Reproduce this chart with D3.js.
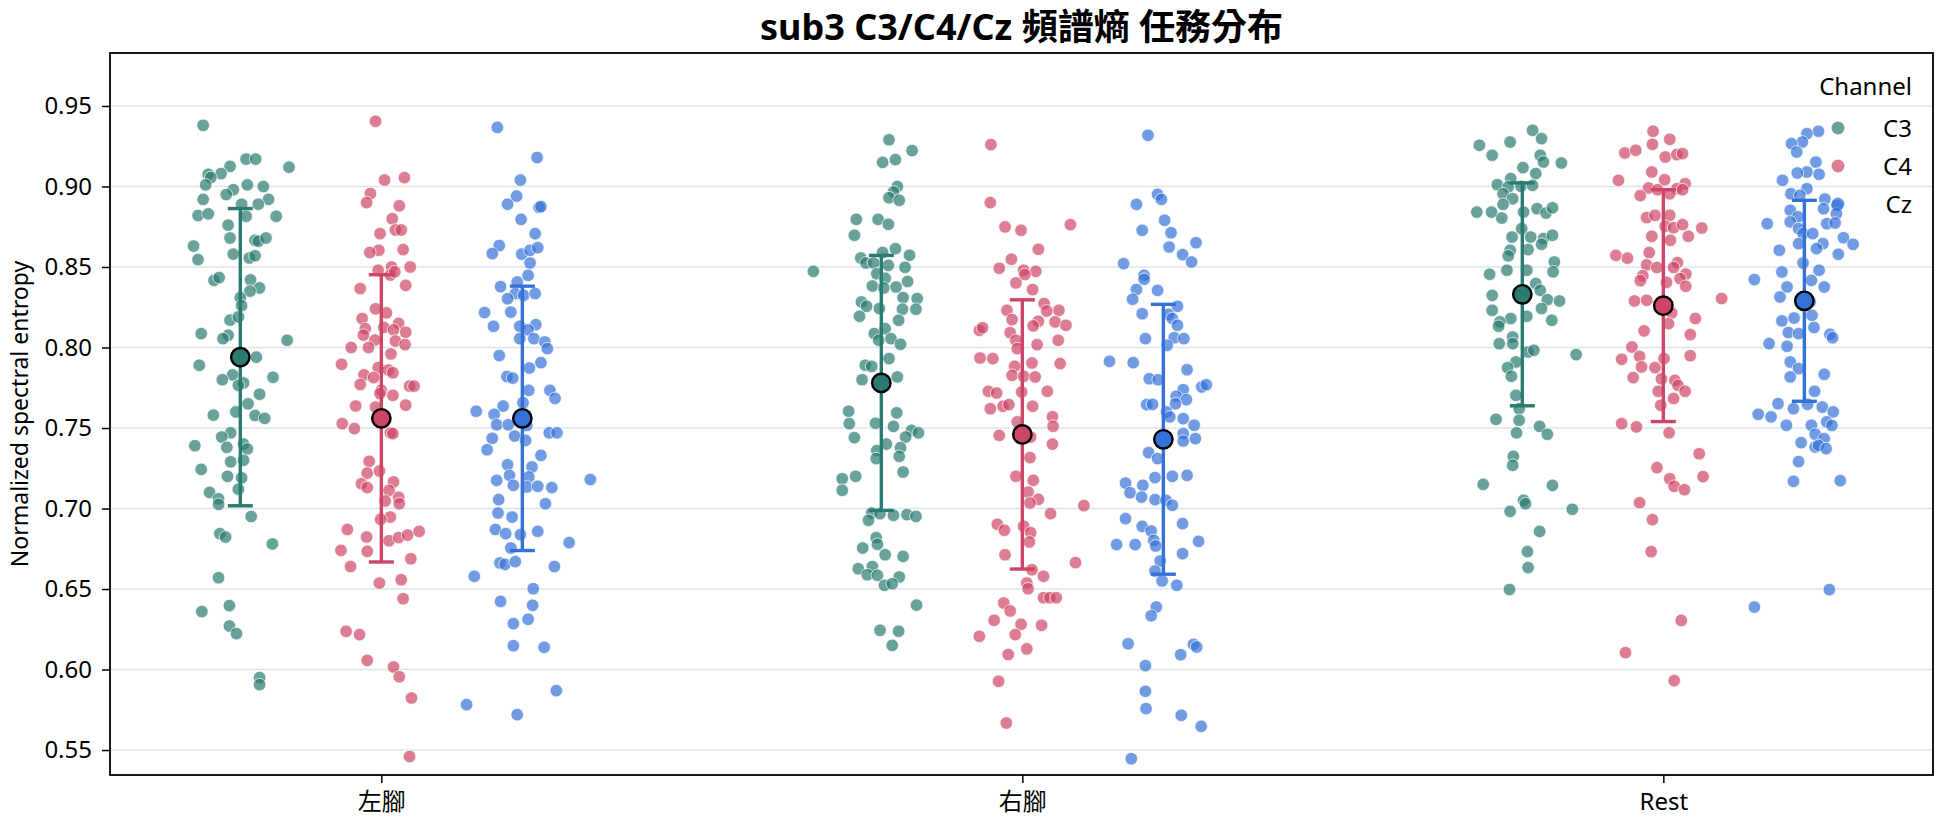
<!DOCTYPE html>
<html>
<head>
<meta charset="utf-8">
<script src="https://cdn.jsdelivr.net/npm/d3@7"></script>
<style>
  body { margin: 0; background: #fff; }
  text { font-family: "Noto Sans", "Noto Sans CJK TC", sans-serif; }
</style>
</head>
<body>
<div class="chart"></div>
<script>
// カテゴリとチャンネル
const categories = ["左腳", "右腳", "Rest"];
const channels = ["C3", "C4", "Cz"];
const yTicks = [0.55, 0.60, 0.65, 0.70, 0.75, 0.80, 0.85, 0.90, 0.95];

// 平均と標準偏差 (カテゴリ × チャンネル)
const meansC3 = [0.794, 0.778, 0.833];
const meansC4 = [0.756, 0.746, 0.826];
const meansCz = [0.756, 0.743, 0.829];
const sdC3 = [0.0923, 0.0792, 0.0692];
const sdC4 = [0.0892, 0.0836, 0.0720];
const sdCz = [0.0821, 0.0838, 0.0624];

// 各点 [jitter(1/1000 カテゴリ幅), 値]
const leftC3 = [[-58,.938],[9,.917],[24,.917],[76,.912],[-16,.9125],[-30,.908],[-50,.9076],[-46,.9055],[-54,.901],[11,.901],[36,.900],[-11,.898],[-22,.895],[-58,.892],[44,.892],[2,.889],[28,.889],[-66,.882],[-50,.883],[9,.8815],[56,.8815],[-19,.876],[-16,.868],[23,.8666],[28,.866],[40,.868],[-73,.863],[-66,.8546],[-11,.858],[14,.8556],[23,.857],[-41,.8417],[-33,.8434],[16,.842],[30,.837],[15,.835],[0,.831],[2,.826],[-16,.817],[-3,.819],[-19,.8076],[-27,.8055],[-61,.8086],[73,.8045],[25,.794],[-64,.789],[-12,.783],[-28,.780],[51,.7815],[5,.778],[-3,.7765],[30,.771],[12,.765],[-7,.760],[-42,.758],[23,.7578],[38,.756],[-15,.747],[-29,.7444],[-71,.739],[-21,.738],[5,.740],[11,.737],[-15,.729],[5,.730],[-61,.7243],[-20,.720],[2,.719],[-3,.712],[-48,.710],[-34,.706],[-34,.7026],[17,.695],[-32,.6844],[-23,.6823],[50,.678],[-34,.657],[-17,.6397],[-60,.636],[-17,.627],[-6,.6223],[30,.595],[30,.5906]];
const leftC4 = [[-9,.9405],[36,.9055],[5,.904],[-17,.8956],[-23,.890],[28,.888],[17,.880],[-2,.8707],[22,.873],[31,.873],[-4,.8604],[-18,.859],[34,.8608],[16,.850],[45,.850],[-5,.848],[14,.845],[21,.847],[-33,.8366],[38,.8386],[-9,.824],[8,.8215],[-30,.818],[27,.815],[-25,.8117],[4,.8125],[38,.8095],[-28,.8077],[19,.811],[-10,.8046],[22,.804],[37,.8018],[-47,.800],[-20,.800],[15,.796],[-62,.7896],[-5,.7875],[11,.786],[18,.7843],[-27,.783],[-12,.7813],[-33,.777],[44,.776],[51,.776],[0,.7734],[-2,.7714],[18,.7703],[-40,.7637],[-9,.763],[38,.7642],[-61,.7527],[-42,.7496],[14,.747],[18,.7465],[-19,.7293],[-22,.722],[-3,.7233],[-31,.7154],[-22,.713],[19,.7165],[12,.7113],[27,.707],[6,.7047],[28,.703],[14,.6947],[-1,.6933],[-53,.687],[-23,.6823],[12,.680],[27,.682],[41,.6835],[59,.6858],[-63,.674],[-22,.6734],[46,.6688],[-48,.664],[-3,.6537],[31,.6558],[34,.644],[-55,.6237],[-34,.6217],[-22,.6057],[19,.6016],[28,.5955],[47,.5823],[44,.546]];
const leftCz = [[-39,.9367],[23,.918],[-3,.904],[-9,.894],[-23,.889],[26,.887],[29,.8875],[-2,.8796],[20,.8707],[-36,.8633],[-47,.8583],[-1,.858],[12,.8604],[24,.862],[12,.8525],[9,.8448],[-8,.8407],[-34,.8378],[-11,.8335],[2,.8324],[20,.8335],[-23,.8303],[-59,.8217],[-18,.822],[-45,.8132],[-4,.8132],[21,.8142],[9,.811],[-4,.8055],[18,.8055],[35,.8034],[39,.7993],[-36,.795],[29,.7906],[11,.7873],[-24,.782],[-15,.781],[10,.7734],[43,.7734],[51,.7684],[-30,.7636],[1,.7657],[-72,.7604],[-44,.7585],[-40,.752],[-22,.752],[7,.7516],[-12,.745],[42,.747],[54,.747],[-47,.7436],[5,.7423],[-55,.7365],[29,.733],[-23,.7272],[15,.7258],[-20,.7206],[10,.7196],[106,.718],[-40,.7175],[-14,.7144],[7,.7134],[24,.7138],[46,.713],[-37,.7055],[36,.703],[-38,.6972],[-16,.6947],[-42,.687],[-26,.6844],[-3,.6838],[24,.6858],[-18,.6755],[73,.6788],[-35,.6662],[-27,.6653],[-11,.667],[50,.664],[-75,.6579],[17,.6502],[-34,.6423],[16,.6399],[9,.6312],[-14,.6285],[-14,.6148],[34,.6138],[53,.5869],[-87,.5782],[-8,.572]];
const rightC3 = [[12,.929],[48,.9223],[2,.915],[22,.9167],[25,.900],[19,.8966],[12,.893],[28,.8914],[-39,.8796],[-5,.8796],[11,.8765],[-42,.8697],[22,.8614],[2,.859],[-32,.8556],[44,.8573],[-24,.8525],[-12,.8525],[11,.851],[-106,.8473],[37,.8498],[-7,.8458],[6,.843],[-14,.8382],[4,.837],[23,.8376],[41,.841],[34,.831],[56,.8304],[-31,.8283],[-23,.8256],[-3,.8242],[33,.8238],[54,.8238],[-34,.8194],[27,.8169],[6,.8117],[-11,.8086],[-4,.8045],[15,.8055],[30,.802],[-25,.789],[-15,.7883],[12,.7931],[-30,.780],[25,.7817],[-51,.7604],[24,.7594],[-50,.7527],[-9,.753],[19,.751],[47,.7485],[58,.747],[-42,.744],[38,.7444],[8,.740],[-7,.736],[30,.7378],[-8,.731],[28,.7324],[34,.7227],[-61,.7185],[-40,.720],[-61,.7113],[-15,.6972],[-2,.6968],[19,.6958],[40,.6962],[54,.6951],[-20,.6927],[-8,.6819],[-6,.6778],[-29,.6755],[6,.6713],[34,.6703],[-36,.6626],[-14,.664],[-22,.6589],[-6,.6585],[28,.6575],[5,.6523],[17,.6533],[55,.640],[-2,.6244],[27,.6238],[17,.615]];
const rightC4 = [[-49,.926],[-50,.890],[75,.8763],[-27,.8749],[-2,.8728],[25,.861],[-17,.8548],[-36,.8492],[2,.848],[21,.8473],[4,.8453],[-10,.8401],[16,.836],[34,.8273],[-24,.8231],[57,.8231],[38,.8227],[-16,.8173],[25,.8163],[51,.8159],[68,.8138],[-67,.8107],[-62,.8123],[17,.8134],[-19,.8092],[-10,.8045],[56,.8045],[23,.8018],[-8,.7993],[-66,.7935],[-46,.7931],[15,.7904],[59,.790],[-12,.7883],[-16,.7827],[2,.7821],[20,.7817],[-53,.7728],[-40,.7717],[-1,.7724],[39,.7728],[-30,.7635],[-21,.7645],[-50,.762],[16,.7635],[47,.757],[-8,.7538],[48,.7511],[-36,.7454],[13,.7444],[47,.740],[12,.7316],[-10,.720],[17,.7175],[9,.7102],[25,.7057],[12,.7034],[44,.6968],[96,.7018],[-39,.6902],[-28,.6865],[2,.689],[13,.685],[11,.6792],[-27,.6713],[83,.6664],[15,.662],[33,.6579],[7,.6537],[9,.6502],[33,.6446],[43,.6446],[53,.6446],[-29,.6413],[-19,.6364],[-44,.6306],[-2,.6281],[30,.6275],[-11,.6217],[-67,.6206],[7,.6128],[-22,.6093],[-37,.5927],[-25,.5668]];
const rightCz = [[-24,.9318],[-9,.8951],[-3,.892],[-42,.8889],[2,.879],[-33,.8728],[12,.8713],[51,.8651],[9,.8624],[30,.8577],[44,.8531],[-62,.8521],[-30,.8448],[-30,.8424],[-9,.8355],[-42,.836],[-48,.830],[22,.8256],[-33,.821],[8,.8206],[14,.818],[22,.8138],[-28,.8055],[17,.8061],[32,.8055],[6,.8014],[-84,.7914],[-47,.7906],[37,.7862],[-22,.7806],[-8,.780],[60,.7755],[67,.7769],[31,.7738],[20,.7697],[36,.7676],[19,.7651],[-26,.7645],[-17,.7647],[5,.760],[10,.7569],[31,.7558],[48,.7517],[31,.7465],[31,.7419],[50,.7434],[-23,.7347],[-9,.731],[-13,.7192],[14,.720],[37,.7206],[-59,.7158],[-32,.7144],[-52,.7098],[-34,.7071],[-13,.7055],[4,.7051],[14,.702],[-59,.6937],[-33,.6889],[30,.6906],[-19,.686],[-15,.6802],[-73,.6776],[-44,.6776],[55,.6796],[-12,.6767],[30,.672],[-5,.6674],[-13,.6612],[-2,.655],[21,.6523],[-11,.6388],[-19,.6334],[-55,.616],[47,.6156],[52,.614],[27,.6092],[-28,.6024],[-28,.5865],[-27,.5757],[28,.5716],[59,.5647],[-50,.5446]];
const restC3 = [[16,.9349],[-67,.9256],[-19,.9276],[30,.9297],[-47,.9194],[28,.9194],[61,.9146],[33,.9152],[1,.9117],[21,.908],[-18,.9049],[-39,.9011],[-22,.8997],[-2,.9001],[16,.9007],[-30,.8955],[-15,.8924],[-30,.8889],[-71,.8841],[-48,.8841],[2,.8841],[-32,.8804],[23,.8862],[37,.8835],[47,.8868],[-1,.8738],[-16,.8686],[13,.8686],[33,.8676],[47,.8697],[30,.8641],[-19,.8604],[9,.8608],[-22,.8569],[50,.8531],[-51,.8455],[-24,.848],[7,.848],[48,.847],[21,.8397],[28,.8355],[-47,.8324],[39,.8297],[58,.8289],[-47,.8231],[30,.8242],[-18,.818],[7,.8194],[46,.8169],[-35,.8159],[-37,.8132],[-36,.8024],[-15,.8065],[-15,.8024],[9,.7972],[18,.7983],[84,.7956],[-10,.791],[-23,.7875],[-17,.7821],[-10,.7703],[-5,.762],[-41,.7554],[-5,.7548],[27,.751],[-9,.747],[39,.7461],[-14,.7324],[-15,.7268],[-61,.715],[47,.7144],[2,.7051],[5,.703],[-19,.6982],[78,.6995],[27,.6858],[8,.6732],[9,.6633],[-20,.6497]];
const restC4 = [[-16,.9343],[10,.9293],[-17,.9262],[-60,.9208],[-43,.9225],[3,.9183],[21,.9198],[30,.9204],[-18,.909],[-70,.9038],[2,.9042],[34,.9017],[-23,.8991],[-9,.898],[21,.8986],[30,.898],[-36,.8943],[10,.8955],[10,.8821],[-26,.8807],[-13,.8821],[3,.8753],[16,.8744],[30,.8763],[60,.8742],[39,.8691],[-18,.8691],[11,.8666],[-74,.8572],[-56,.8555],[-22,.859],[22,.8527],[-26,.8513],[-10,.8497],[16,.8497],[35,.8456],[-32,.8446],[-36,.8415],[5,.8405],[26,.8428],[35,.838],[91,.8304],[-45,.8289],[-26,.8293],[13,.8215],[50,.818],[-30,.8103],[8,.8148],[42,.808],[-49,.8003],[-37,.7945],[42,.7949],[-65,.7927],[1,.7931],[-34,.7879],[-13,.7875],[-47,.7813],[-3,.7805],[18,.7796],[23,.7765],[34,.7728],[-8,.7728],[16,.7683],[-4,.7641],[-65,.7527],[-42,.7507],[9,.747],[56,.734],[-10,.7254],[10,.7185],[17,.7138],[33,.7117],[62,.7198],[-37,.7036],[-17,.6931],[-19,.6732],[28,.6305],[-59,.6105],[17,.5931]];
const restCz = [[22,.9343],[4,.9328],[-3,.9276],[-20,.9266],[-12,.9214],[18,.9152],[4,.909],[-11,.9084],[23,.9076],[-34,.9038],[4,.8986],[-21,.8955],[-7,.8945],[32,.8922],[51,.8883],[30,.8862],[-22,.8852],[50,.8831],[-10,.8811],[-58,.8769],[-22,.878],[35,.8769],[48,.8773],[-9,.8738],[-2,.8707],[13,.8707],[61,.8682],[76,.8641],[-9,.8645],[29,.8645],[19,.8614],[-39,.8604],[53,.8579],[-2,.8525],[-35,.8469],[23,.848],[11,.8417],[-78,.8422],[-27,.8376],[31,.8376],[-38,.8314],[9,.8283],[-16,.8183],[12,.820],[-35,.8165],[-25,.8093],[-9,.8086],[15,.8124],[-55,.8024],[-27,.8008],[40,.8082],[44,.8061],[-22,.791],[-9,.7869],[31,.7834],[-22,.7817],[16,.7728],[-41,.7651],[-17,.762],[5,.7647],[28,.763],[-72,.7585],[-52,.7569],[45,.760],[-28,.7517],[11,.7517],[35,.7538],[43,.7516],[17,.7461],[31,.7434],[-5,.7409],[17,.7382],[22,.7392],[34,.7372],[-9,.7291],[-17,.7169],[56,.7173],[39,.6496],[-78,.6388]];

// 色
const colors = { C3: "#2a7b71", C4: "#cd4667", Cz: "#3572d8" };

// サイズとマージン
const W = 1944, H = 827;
const margin = { top: 53, right: 11, bottom: 52, left: 110 };
const width = W - margin.left - margin.right;
const height = H - margin.top - margin.bottom;

const svg = d3.select(".chart").append("svg")
    .attr("width", W).attr("height", H);
const g = svg.append("g")
    .attr("transform", `translate(${margin.left},${margin.top})`);

// スケール
const x = d3.scaleLinear().domain([-0.4233, 2.4207]).range([0, width]);
const y = d3.scaleLinear().domain([0.5345, 0.9829]).range([height, 0]);
const hueOffset = { C3: -0.22, C4: 0, Cz: 0.22 };

// グリッド
g.append("g")
    .selectAll("line")
    .data(yTicks)
    .enter().append("line")
    .attr("x1", 0).attr("x2", width)
    .attr("y1", d => y(d)).attr("y2", d => y(d))
    .attr("stroke", "#dbe4ec").attr("stroke-width", 1.6);

// データ整形
const groups = [
    { cat: 0, ch: "C3", pts: leftC3 }, { cat: 0, ch: "C4", pts: leftC4 }, { cat: 0, ch: "Cz", pts: leftCz },
    { cat: 1, ch: "C3", pts: rightC3 }, { cat: 1, ch: "C4", pts: rightC4 }, { cat: 1, ch: "Cz", pts: rightCz },
    { cat: 2, ch: "C3", pts: restC3 }, { cat: 2, ch: "C4", pts: restC4 }, { cat: 2, ch: "Cz", pts: restCz }
];
const points = [];
groups.forEach(gr => gr.pts.forEach(p => points.push({ cat: gr.cat, ch: gr.ch, j: p[0] / 1000, v: p[1] })));

// 点の描画
g.append("g").selectAll("circle")
    .data(points)
    .enter().append("circle")
    .attr("cx", d => x(d.cat + hueOffset[d.ch] + d.j))
    .attr("cy", d => y(d.v))
    .attr("r", 6.3)
    .attr("fill", d => colors[d.ch])
    .attr("fill-opacity", 0.7)
    .attr("stroke", "#fff")
    .attr("stroke-opacity", 0.8)
    .attr("stroke-width", 0.9);

// 平均と誤差棒
const meanData = [];
[["C3", meansC3, sdC3], ["C4", meansC4, sdC4], ["Cz", meansCz, sdCz]].forEach(([ch, m, s]) => {
    categories.forEach((c, i) => meanData.push({ cat: i, ch: ch, m: m[i], s: s[i] }));
});
const eb = g.append("g").selectAll("g")
    .data(meanData)
    .enter().append("g")
    .attr("stroke", d => colors[d.ch])
    .attr("stroke-width", 3.4);
eb.append("line")
    .attr("x1", d => x(d.cat + hueOffset[d.ch])).attr("x2", d => x(d.cat + hueOffset[d.ch]))
    .attr("y1", d => y(d.m - d.s)).attr("y2", d => y(d.m + d.s));
eb.append("line")
    .attr("x1", d => x(d.cat + hueOffset[d.ch]) - 12.5).attr("x2", d => x(d.cat + hueOffset[d.ch]) + 12.5)
    .attr("y1", d => y(d.m + d.s)).attr("y2", d => y(d.m + d.s));
eb.append("line")
    .attr("x1", d => x(d.cat + hueOffset[d.ch]) - 12.5).attr("x2", d => x(d.cat + hueOffset[d.ch]) + 12.5)
    .attr("y1", d => y(d.m - d.s)).attr("y2", d => y(d.m - d.s));
g.append("g").selectAll("circle")
    .data(meanData)
    .enter().append("circle")
    .attr("cx", d => x(d.cat + hueOffset[d.ch]))
    .attr("cy", d => y(d.m))
    .attr("r", 9.2)
    .attr("fill", d => colors[d.ch])
    .attr("stroke", "#000")
    .attr("stroke-width", 2.4);

// 軸
const yAxis = d3.axisLeft(y).tickValues(yTicks).tickFormat(d3.format(".2f")).tickSize(8).tickPadding(10);
const gy = g.append("g").call(yAxis);
gy.select(".domain").remove();
gy.selectAll("line").attr("stroke-width", 1.5);
gy.selectAll("text").attr("font-size", 24).attr("fill", "#000");

const xAxis = d3.axisBottom(x).tickValues([0, 1, 2]).tickFormat(i => categories[i]).tickSize(8).tickPadding(10);
const gx = g.append("g").attr("transform", `translate(0,${height})`).call(xAxis);
gx.select(".domain").remove();
gx.selectAll("line").attr("stroke-width", 1.5);
gx.selectAll("text").attr("font-size", 24).attr("fill", "#000");

// 枠
g.append("rect")
    .attr("width", width).attr("height", height)
    .attr("fill", "none").attr("stroke", "#000").attr("stroke-width", 1.8);

// 軸ラベル
svg.append("text")
    .attr("transform", `translate(28,${margin.top + height / 2}) rotate(-90)`)
    .attr("text-anchor", "middle")
    .attr("font-size", 23)
    .text("Normalized spectral entropy");

// タイトル
svg.append("text")
    .attr("x", margin.left + width / 2).attr("y", 40)
    .attr("text-anchor", "middle")
    .attr("font-size", 36).attr("font-weight", "bold")
    .text("sub3 C3/C4/Cz 頻譜熵 任務分布");

// 凡例
const lg = svg.append("g");
lg.append("text")
    .attr("x", 1912).attr("y", 95)
    .attr("text-anchor", "end").attr("font-size", 24)
    .text("Channel");
channels.forEach((ch, i) => {
    const yy = 128 + i * 38;
    lg.append("circle").attr("cx", 1838).attr("cy", yy).attr("r", 6.5)
        .attr("fill", colors[ch]).attr("fill-opacity", 0.7);
    lg.append("text").attr("x", 1912).attr("y", yy + 8.5)
        .attr("text-anchor", "end").attr("font-size", 24)
        .text(ch);
});
</script>
</body>
</html>
